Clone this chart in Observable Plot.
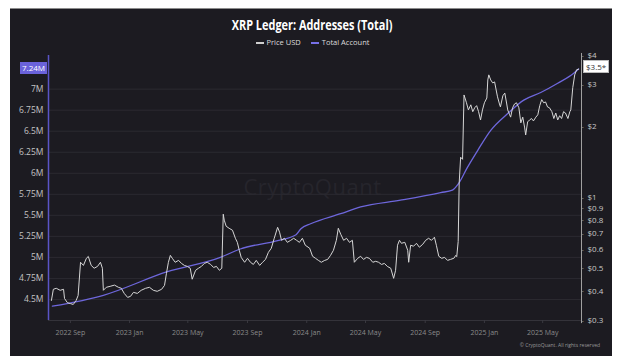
<!DOCTYPE html>
<html><head><meta charset="utf-8">
<script src="https://cdn.jsdelivr.net/npm/d3@7"></script>
<script src="https://cdn.jsdelivr.net/npm/@observablehq/plot@0.6"></script>
<style>
html,body{margin:0;padding:0;background:#fff;width:625px;height:356px;overflow:hidden;font-family:"Open Sans",sans-serif;}
#panel{position:absolute;left:10px;top:8px;width:602px;height:348px;background:#1c1b21;border-top:1px solid #8c8c8c;}
#title{position:absolute;left:0;top:15px;width:625px;text-align:center;color:#fff;font-weight:700;font-size:14px;line-height:19px;}
#title span{display:inline-block;transform:scaleX(0.78);}
#legend{position:absolute;left:0;top:37px;width:625px;text-align:center;color:#dcdcdc;font-size:7.5px;line-height:11px;}
#legend .it{display:inline-block;margin:0 5px;}
#legend .sw{display:inline-block;width:8px;height:1.2px;vertical-align:middle;margin-right:3px;}
#wm{position:absolute;left:0;top:171px;width:625px;text-align:center;color:#26252c;font-size:22px;letter-spacing:0.5px;}
#chart{position:absolute;left:0;top:50px;width:625px;height:300px;}
#chart svg{position:absolute;left:0;top:0;}
.box{position:absolute;font-size:8px;line-height:12px;height:12px;padding:0 2px;}
#copy{position:absolute;right:25px;top:342px;color:#9a9a9a;font-size:5px;}
</style></head>
<body>
<div id="panel"></div>
<div id="title"><span>XRP Ledger: Addresses (Total)</span></div>
<div id="legend"><span class="it"><span class="sw" style="background:#cfcfcf"></span>Price USD</span><span class="it"><span class="sw" style="background:#7770e6"></span>Total Account</span></div>
<div id="wm">CryptoQuant</div>
<div id="chart"></div>
<div id="copy">© CryptoQuant. All rights reserved</div>
<script>
const priceDates = ["2022-07-24","2022-07-28","2022-08-03","2022-08-11","2022-08-18","2022-08-20","2022-08-26","2022-09-01","2022-09-07","2022-09-13","2022-09-17","2022-09-22","2022-09-28","2022-10-04","2022-10-08","2022-10-14","2022-10-20","2022-10-27","2022-11-02","2022-11-06","2022-11-08","2022-11-14","2022-11-22","2022-12-01","2022-12-09","2022-12-15","2022-12-21","2022-12-28",
"2023-01-03","2023-01-09","2023-01-17","2023-01-25","2023-02-03","2023-02-11","2023-02-19","2023-02-27","2023-03-08","2023-03-14","2023-03-18","2023-03-22","2023-03-26","2023-03-30","2023-04-05","2023-04-12","2023-04-18","2023-04-24","2023-04-30","2023-05-06","2023-05-10","2023-05-17","2023-05-23","2023-05-29","2023-06-04","2023-06-10","2023-06-17","2023-06-23","2023-06-29","2023-07-05","2023-07-10","2023-07-13","2023-07-15","2023-07-19","2023-07-25","2023-08-01","2023-08-07","2023-08-11","2023-08-15","2023-08-19","2023-08-26","2023-09-01","2023-09-07","2023-09-13","2023-09-19","2023-09-26","2023-10-02","2023-10-08","2023-10-14","2023-10-20","2023-10-26","2023-11-02","2023-11-06","2023-11-10","2023-11-16","2023-11-22","2023-11-29","2023-12-05","2023-12-11","2023-12-17","2023-12-23","2023-12-29",
"2024-01-07","2024-01-13","2024-01-19","2024-01-25","2024-01-31","2024-02-07","2024-02-13","2024-02-19","2024-02-25","2024-03-02","2024-03-06","2024-03-11","2024-03-17","2024-03-23","2024-03-29","2024-04-04","2024-04-08","2024-04-15","2024-04-21","2024-04-27","2024-05-03","2024-05-09","2024-05-16","2024-05-22","2024-05-28","2024-06-03","2024-06-09","2024-06-15","2024-06-22","2024-06-28","2024-07-02","2024-07-06","2024-07-10","2024-07-14","2024-07-21","2024-07-27","2024-07-29","2024-08-02","2024-08-08","2024-08-14","2024-08-20","2024-08-27","2024-09-02","2024-09-08","2024-09-14","2024-09-20","2024-09-24","2024-09-29","2024-10-05","2024-10-11","2024-10-17","2024-10-23","2024-10-30","2024-11-03","2024-11-05","2024-11-08","2024-11-10","2024-11-13","2024-11-17","2024-11-20","2024-11-25","2024-11-29","2024-12-04","2024-12-08","2024-12-12","2024-12-16","2024-12-20","2024-12-24","2024-12-28",
"2025-01-01","2025-01-06","2025-01-08","2025-01-10","2025-01-14","2025-01-18","2025-01-22","2025-01-26","2025-01-28","2025-02-01","2025-02-03","2025-02-08","2025-02-12","2025-02-16","2025-02-18","2025-02-22","2025-02-24","2025-02-28","2025-03-04","2025-03-08","2025-03-13","2025-03-17","2025-03-21","2025-03-25","2025-03-27","2025-03-31","2025-04-04","2025-04-08","2025-04-12","2025-04-17","2025-04-21","2025-04-25","2025-04-29","2025-05-03","2025-05-07","2025-05-11","2025-05-15","2025-05-20","2025-05-24","2025-05-28","2025-06-01","2025-06-05","2025-06-09","2025-06-13","2025-06-17","2025-06-22","2025-06-26","2025-06-28","2025-07-02","2025-07-06","2025-07-10","2025-07-14"];
const priceUSD = [0.365,0.407,0.411,0.403,0.407,0.372,0.357,0.354,0.351,0.365,0.383,0.530,0.514,0.551,0.561,0.514,0.500,0.509,0.530,0.500,0.403,0.415,0.419,0.424,0.415,0.411,0.391,0.376,
0.380,0.395,0.391,0.403,0.411,0.415,0.403,0.399,0.407,0.423,0.476,0.530,0.567,0.551,0.530,0.540,0.524,0.514,0.509,0.500,0.449,0.490,0.500,0.509,0.524,0.530,0.519,0.504,0.509,0.490,0.500,0.848,0.800,0.754,0.739,0.725,0.670,0.644,0.596,0.556,0.530,0.551,0.530,0.519,0.540,0.514,0.530,0.545,0.584,0.608,0.670,0.746,0.711,0.657,0.670,0.644,0.657,0.670,0.657,0.644,0.670,0.626,
0.608,0.562,0.551,0.540,0.530,0.540,0.545,0.567,0.596,0.657,0.739,0.697,0.657,0.670,0.644,0.657,0.530,0.551,0.562,0.545,0.556,0.551,0.530,0.535,0.530,0.519,0.524,0.509,0.500,0.453,0.490,0.626,0.657,0.638,0.644,0.596,0.530,0.626,0.620,0.638,0.614,0.632,0.657,0.670,0.657,0.677,0.626,0.562,0.551,0.556,0.540,0.545,0.551,0.567,0.560,0.650,1.15,1.48,1.45,2.72,2.52,2.35,2.47,2.31,2.40,2.45,2.31,2.13,2.35,
2.52,2.64,3.15,3.31,3.15,3.06,3.09,2.80,2.67,2.49,2.42,2.70,2.77,2.49,2.35,2.24,2.19,2.40,2.49,2.52,2.40,2.07,2.19,1.97,1.84,2.09,2.13,2.16,2.11,2.19,2.24,2.45,2.60,2.52,2.54,2.42,2.40,2.31,2.16,2.28,2.13,2.22,2.16,2.31,2.28,2.16,2.31,2.35,2.92,3.31,3.48,3.50];

const accountDates = ["2022-07-26","2022-11-08","2023-03-20","2023-07-07","2023-08-17","2023-11-02","2023-12-10","2023-12-20","2024-01-09","2024-03-11","2024-04-21","2024-07-12","2024-10-03","2024-10-27","2024-11-09","2024-11-27","2024-12-18","2025-01-14","2025-02-18","2025-03-23","2025-04-27","2025-06-01","2025-07-04","2025-07-14"];
const totalAccountsM = [4.42,4.55,4.83,5.00,5.10,5.20,5.27,5.34,5.40,5.52,5.60,5.68,5.77,5.80,5.88,6.07,6.27,6.51,6.71,6.87,6.96,7.07,7.19,7.24];

const leftTicks = [4.5,4.75,5,5.25,5.5,5.75,6,6.25,6.5,6.75,7];
const rightTicks = [0.3,0.4,0.5,0.6,0.7,0.8,0.9,1,2,3,4];
const xTickDates = ["2022-09-01","2023-01-01","2023-05-01","2023-09-01","2024-01-01","2024-05-01","2024-09-01","2025-01-01","2025-05-01"];
const xRange = ["2022-07-18","2025-07-20"];
const accountDomain = [4.25, 7.4];
const priceDomain = [0.3, 4];

const price = priceDates.map((d,i)=>({date:new Date(d), p:priceUSD[i]}));
const accounts = accountDates.map((d,i)=>({date:new Date(d), v:totalAccountsM[i]}));
const xDomain = xRange.map(d=>new Date(d));
const xTicks = xTickDates.map(d=>new Date(d));

const common = {width:625, height:300, marginLeft:48, marginRight:44, marginTop:5, marginBottom:30,
  style:{background:"transparent", fontFamily:"Open Sans", overflow:"visible"}};

const p1 = Plot.plot({...common,
  x:{type:"utc", domain:xDomain},
  y:{domain:accountDomain},
  marks:[
    Plot.gridY(leftTicks, {stroke:"#2b2a31", strokeOpacity:1}),
    Plot.ruleY([accountDomain[0]], {stroke:"#34333a"}),
    Plot.axisX(xTicks, {tickFormat:d3.utcFormat("%Y %b"), tickSize:3, tickPadding:7, color:"#8a8a8a", stroke:"#3a3940", fontSize:7, label:null}),
    Plot.axisY(leftTicks, {tickFormat:d=>d+"M", tickSize:0, tickPadding:5, color:"#c4c4c4", fontSize:8.5, label:null}),
    Plot.ruleX([xDomain[0]], {stroke:"#5a54c6", strokeWidth:1.5}),
    Plot.lineY(accounts, {x:"date", y:"v", stroke:"#6e67dc", strokeWidth:1.3, curve:"monotone-x"})
  ]});

const p2 = Plot.plot({...common,
  x:{type:"utc", domain:xDomain, axis:null},
  y:{type:"log", domain:priceDomain, axis:null},
  marks:[
    Plot.ruleX([xDomain[1]], {stroke:"#a0a0a0", y1:priceDomain[0]*0.97, y2:priceDomain[1]*1.02}),
    Plot.text(rightTicks, {y:d=>d, frameAnchor:"right", textAnchor:"start", dx:6, text:d=>"$"+d, fill:"#c8c8c8", fontSize:8}),
    Plot.text(rightTicks, {y:d=>d, frameAnchor:"right", textAnchor:"start", dx:0, text:()=>"-", fill:"#a0a0a0", fontSize:7}),
    Plot.lineY(price, {x:"date", y:"p", stroke:"#d6d6d6", strokeWidth:1})
  ]});

const chart = document.getElementById("chart");
chart.appendChild(p1);
chart.appendChild(p2);

// value boxes placed through the plots' own scales
const lastAcc = totalAccountsM[totalAccountsM.length-1];
const lastPrice = priceUSD[priceUSD.length-1];
const yA = p1.scale("y").apply(lastAcc);
const yP = p2.scale("y").apply(lastPrice);
const xL = p1.scale("x").apply(xDomain[0]);
const xR = p2.scale("x").apply(xDomain[1]);

const b1 = document.createElement("div");
b1.className = "box";
b1.style.cssText = `background:#6a62da;color:#fff;top:${yA-6}px;right:${625-xL+1}px;`;
b1.textContent = lastAcc + "M";
chart.appendChild(b1);

const b2 = document.createElement("div");
b2.className = "box";
b2.style.cssText = `background:#fff;color:#333;border:1px solid #bbb;top:${yP-9}px;left:${xR+2}px;height:11px;line-height:11px;`;
b2.textContent = "$" + lastPrice + "*";
chart.appendChild(b2);
</script>
</body></html>
